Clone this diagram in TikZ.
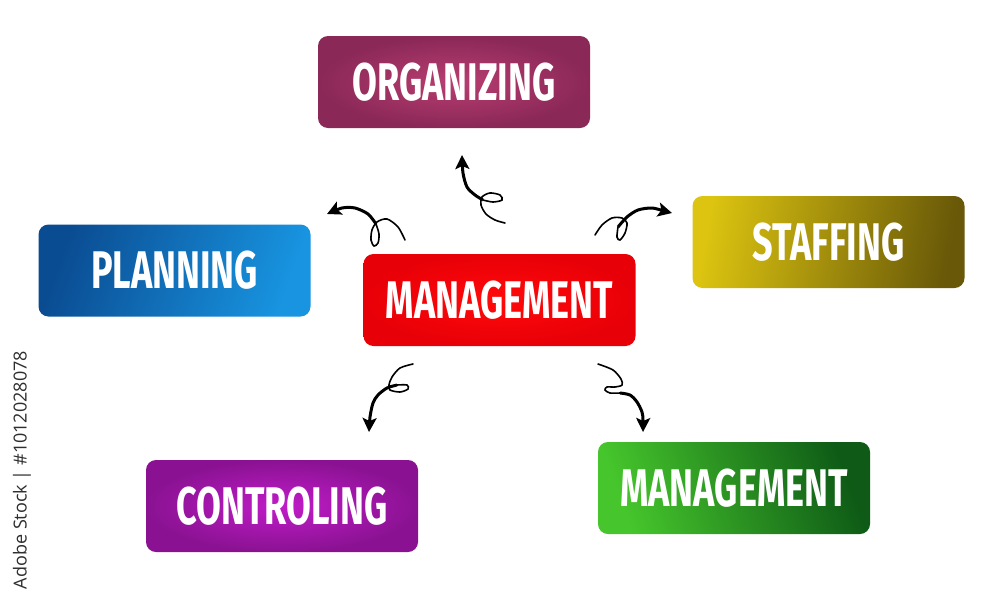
\documentclass[tikz,border=0pt]{standalone}
\usepackage{fontspec}
\usetikzlibrary{arrows.meta}
\newfontfamily\boxfont{Fira Sans}[FakeStretch=0.68]
\newfontfamily\wmfont{Open Sans}
\definecolor{orgA}{HTML}{B83E70}
\definecolor{orgB}{HTML}{8A2858}
\definecolor{planA}{HTML}{0A4C92}
\definecolor{planB}{HTML}{1894E0}
\definecolor{redA}{HTML}{FF0A0A}
\definecolor{redB}{HTML}{E80008}
\definecolor{stA}{HTML}{DCC410}
\definecolor{stB}{HTML}{685808}
\definecolor{ctA}{HTML}{C01CC8}
\definecolor{ctB}{HTML}{8A1292}
\definecolor{grA}{HTML}{46C62C}
\definecolor{grB}{HTML}{0E5A16}
\definecolor{wm}{HTML}{2E2E2E}
\tikzset{
  box/.style={rounded corners=10pt, minimum width=272pt, minimum height=92pt,
    inner sep=0pt, text=white, font=\boxfont\bfseries\fontsize{53}{53}\selectfont},
  curlthin/.style={line width=1.6pt, line cap=round},
  curlthick/.style={line width=3pt, -{Stealth[length=14pt,width=14pt,inset=3pt]}},
}
\begin{document}
\begin{tikzpicture}[x=1pt,y=-1pt]
\useasboundingbox (0,0) rectangle (1000,600);
\fill[white] (0,0) rectangle (1000,600);

\node[box, inner color=orgA, outer color=orgB] (org) at (454,82) {ORGANIZING};
\node[box, left color=planA, right color=planB, shading angle=70] (plan) at (174.5,270.5) {PLANNING};
\node[box, inner color=redA, outer color=redB] (mgmt) at (499.5,300) {MANAGEMENT};
\node[box, left color=stA, right color=stB, shading angle=80] (staff) at (828.5,242) {STAFFING};
\node[box, inner color=ctA, outer color=ctB] (ctrl) at (282,506) {CONTROLING};
\node[box, left color=grA, right color=grB, shading angle=110] (mgmt2) at (734,488) {MANAGEMENT};

% arrow to PLANNING
\coordinate (t1) at (405,240); \coordinate (h1) at (327,214);
\draw[curlthin] plot[smooth] coordinates {(t1) (398,227) (387,219) (377,222) (372,230) (371,240) (374,246) (378,243) (379,234) (376,224)};
\draw[curlthick] plot[smooth] coordinates {(376,224) (368,214) (355,208) (342,208) (h1)};

% arrow to ORGANIZING
\coordinate (t2) at (505,223); \coordinate (h2) at (462,155);
\draw[curlthin] plot[smooth] coordinates {(t2) (495,220) (486,214) (481,205) (482,197) (490,193) (500,195) (502,200) (493,202) (483,200)};
\draw[curlthick] plot[smooth] coordinates {(483,200) (475,195) (467,187) (463,173) (h2)};

% arrow to STAFFING
\coordinate (t3) at (595,235); \coordinate (h3) at (672,213);
\draw[curlthin] plot[smooth] coordinates {(t3) (602,225) (612,218) (622,218) (627,223) (625,233) (620,240) (617,237) (618,227)};
\draw[curlthick] plot[smooth] coordinates {(618,227) (627,217) (638,210) (652,208) (664,211) (h3)};

% arrow to CONTROLING
\coordinate (t4) at (413,364); \coordinate (h4) at (369,432);
\draw[curlthin] plot[smooth] coordinates {(t4) (400,368) (392,377) (389,385) (390,390) (400,392) (408,389) (407,385) (397,385)};
\draw[curlthick] plot[smooth] coordinates {(397,385) (387,388) (378,395) (373,403) (370,417) (h4)};

% arrow to green MANAGEMENT
\coordinate (t5) at (598,364); \coordinate (h5) at (643,432);
\draw[curlthin] plot[smooth] coordinates {(t5) (613,370) (621,379) (622,385) (615,387) (607,387) (605,390) (610,393) (620,393)};
\draw[curlthick] plot[smooth] coordinates {(620,393) (630,395) (637,402) (642,412) (643,420) (h5)};

\node[rotate=90, text=wm, font=\wmfont\fontsize{18}{18}\selectfont, inner sep=0pt] (wmk) at (22,470) {Adobe Stock | \#1012028078};
\end{tikzpicture}
\end{document}
